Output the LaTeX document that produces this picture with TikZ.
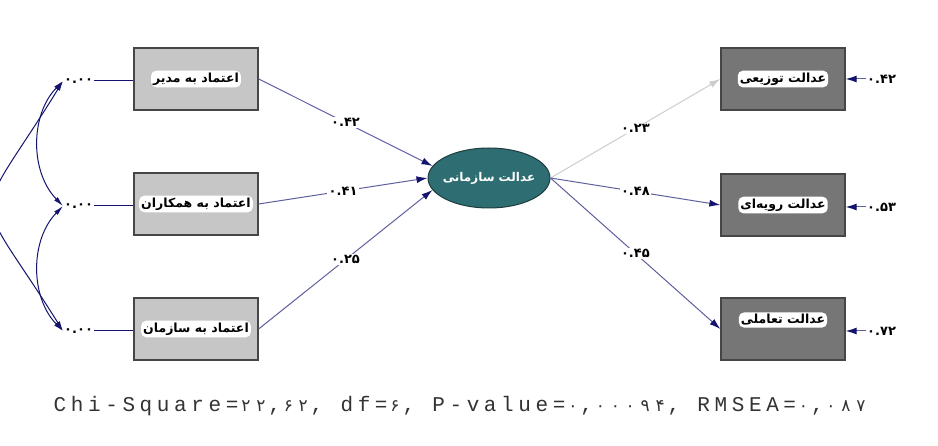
\documentclass[tikz,border=0pt]{standalone}
\usepackage{fontspec}
\usepackage{tikz}
\usetikzlibrary{positioning,shapes,arrows,arrows.meta}
\TeXXeTstate=1
\newfontfamily\farsi[Script=Arabic]{DejaVu Sans}
\newfontfamily\numf{DejaVu Sans}
\newfontfamily\monof[LetterSpace=22]{Liberation Mono}
\newlength\pitch
\newcommand\pd[1]{\makebox[\pitch][c]{\numf\fontsize{17}{17}\selectfont #1}}
\definecolor{boxlight}{RGB}{198,198,198}
\definecolor{boxdark}{RGB}{118,118,118}
\definecolor{boxline}{RGB}{70,70,70}
\definecolor{latfill}{RGB}{46,110,114}
\definecolor{latline}{RGB}{30,60,62}
\definecolor{pathcol}{RGB}{96,96,160}
\definecolor{tipcol}{RGB}{20,20,110}
\definecolor{graycol}{RGB}{205,205,205}
\tikzstyle{ind}=[draw=boxline, fill=boxlight, minimum height=62pt, minimum width=124pt, line width=1.3pt]
\tikzstyle{dep}=[ind, fill=boxdark]
\tikzstyle{tag}=[fill=white, rounded corners=5pt, inner sep=2pt, font=\farsi\bfseries\fontsize{12.5}{12.5}\selectfont]
\tikzstyle{lat}=[ellipse, draw=latline, fill=latfill, minimum height=60pt, minimum width=122pt, inner sep=0pt, line width=1pt]
\tikzstyle{lattag}=[inner sep=1pt, text=white, font=\farsi\bfseries\fontsize{12}{12}\selectfont]
\tikzstyle{coef}=[fill=white, inner sep=1.5pt, font=\numf\bfseries\fontsize{13}{13}\selectfont]
\tikzstyle{err}=[inner sep=1pt, font=\numf\bfseries\fontsize{13}{13}\selectfont]
\tikzstyle{reg}=[draw=pathcol, line width=1pt, -{Latex[color=tipcol,length=11pt,width=7pt]}]
\tikzstyle{cov}=[draw=tipcol, line width=1pt, {Latex[length=10pt,width=5pt]}-{Latex[length=10pt,width=5pt]}]

\begin{document}
\begin{tikzpicture}[x=1pt,y=-1pt,>=latex]
\useasboundingbox (0,0) rectangle (938,446);
\fill[white] (0,0) rectangle (938,446);
\clip (0,0) rectangle (938,446);

% exogenous
\node[ind] at (196,79) (trust1) {};
\node[ind] at (196,204) (trust2) {};
\node[ind] at (196,329) (trust3) {};
\node[tag] at (trust1) (trust1t) {\beginR اعتماد به مدیر\endR};
\node[tag] at (trust2) (trust2t) {\beginR اعتماد به همکاران\endR};
\node[tag] at (trust3) (trust3t) {\beginR اعتماد به سازمان\endR};

\node[err, anchor=west] at (63,81) (e1) {۰.۰۰};
\node[err, anchor=west] at (63,206) (e2) {۰.۰۰};
\node[err, anchor=west] at (63,331) (e3) {۰.۰۰};
\draw[tipcol, line width=1pt] (e1) -- (e1 -| trust1.west);
\draw[tipcol, line width=1pt] (e2) -- (e2 -| trust2.west);
\draw[tipcol, line width=1pt] (e3) -- (e3 -| trust3.west);

\draw[cov] (e1.west) .. controls (30,115) and (30,172) .. (e2.west);
\draw[cov] (e2.west) .. controls (30,240) and (30,297) .. (e3.west);
\draw[cov] (e1.west) .. controls (-30,232) and (-30,182) .. (e3.west);

% latent
\node[lat] at (489,178) (orgjust) {};
\node[lattag] at (orgjust) (orgjustt) {\beginR عدالت سازمانی\endR};

\draw[reg] (trust1.east) -- node[coef] {۰.۴۲} (orgjust.168);
\draw[reg] (trust2.east) -- node[coef] {۰.۴۱} (orgjust.west);
\draw[reg] (trust3.east) -- node[coef] {۰.۲۵} (orgjust.192);

% endogenous
\node[dep] at (783,79) (just1) {};
\node[dep] at (783,205) (just2) {};
\node[dep] at (783,329) (just3) {};
\node[tag] at (just1) (just1t) {\beginR عدالت توزیعی\endR};
\node[tag] at (just2) (just2t) {\beginR عدالت رویه‌ای\endR};
\node[tag] at (just3.north |- 0,320) (just3t) {\beginR عدالت تعاملی\endR};

\draw[reg, draw=graycol, -{Latex[color=graycol,length=11pt,width=7pt]}] (orgjust.east) -- node[coef] {۰.۲۳} (just1.west);
\draw[reg] (orgjust.east) -- node[coef] {۰.۴۸} (just2.west);
\draw[reg] (orgjust.east) -- node[coef] {۰.۴۵} (just3.west);

\node[err, anchor=west] at (866,79) (d1) {۰.۴۲};
\node[err, anchor=west] at (866,207) (d2) {۰.۵۳};
\node[err, anchor=west] at (866,331) (d3) {۰.۷۲};
\draw[reg] (d1) -- (d1 -| just1.east);
\draw[reg] (d2) -- (d2 -| just2.east);
\draw[reg] (d3) -- (d3 -| just3.east);

% fit indices
\node[text=black!80] at (461,406) (fit) {\monof\fontsize{21}{21}\selectfont\settowidth\pitch{00}\pitch=0.5\pitch
Chi-Square=\pd{۲}\pd{۲},\pd{۶}\pd{۲}, df=\pd{۶}, P-value=\pd{۰},\pd{۰}\pd{۰}\pd{۰}\pd{۹}\pd{۴}, RMSEA=\pd{۰},\pd{۰}\pd{۸}\pd{۷}};
\end{tikzpicture}
\end{document}
